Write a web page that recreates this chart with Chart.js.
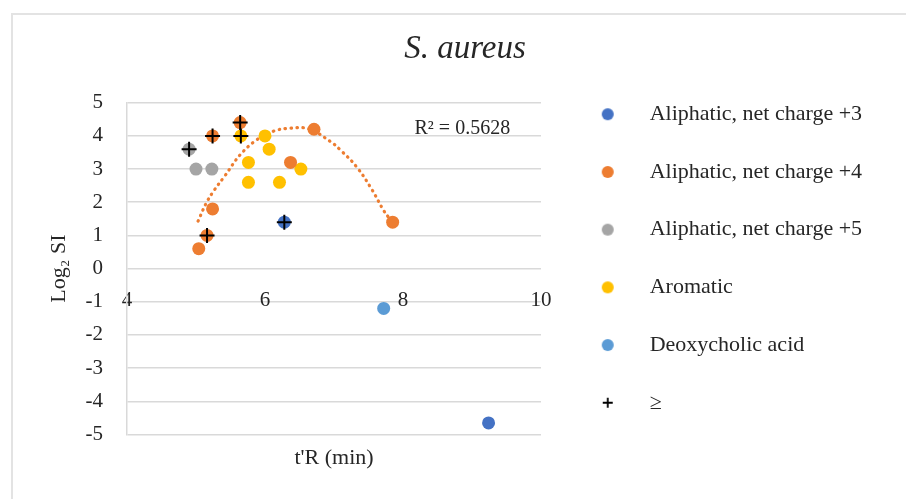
<!DOCTYPE html>
<html>
<head>
<meta charset="utf-8">
<script src="https://cdn.jsdelivr.net/npm/chart.js@4"></script>
<style>
  body { margin: 0; background: #fff; }
  #wrap { position: relative; width: 906px; height: 499px; overflow: hidden; }
  #frame { position: absolute; left: 11px; top: 13px; width: 1000px; height: 600px; border: 2px solid #e3e3e3; }
  #myChart { position: absolute; left: 0; top: 0; }
</style>
</head>
<body>
<div id="wrap"><div id="frame"></div><canvas id="myChart" width="906" height="499"></canvas></div>
<script>
var seriesNames = ["Aliphatic, net charge +3", "Aliphatic, net charge +4", "Aliphatic, net charge +5", "Aromatic", "Deoxycholic acid", "≥"]
var seriesColors = ["#4472C4", "#ED7D31", "#A5A5A5", "#FFC000", "#5B9BD5", "#000000"]

var aliph3X = [6.28, 9.24]
var aliph3Y = [1.4, -4.65]
var aliph4X = [5.04, 5.16, 5.24, 5.24, 5.64, 6.37, 6.71, 7.85]
var aliph4Y = [0.6, 1.0, 1.8, 4.0, 4.4, 3.2, 4.2, 1.4]
var aliph5X = [4.9, 5.0, 5.23]
var aliph5Y = [3.6, 3.0, 3.0]
var aromX = [5.65, 5.76, 5.76, 6.0, 6.06, 6.21, 6.52]
var aromY = [4.0, 3.2, 2.6, 4.0, 3.6, 2.6, 3.0]
var deoxyX = [7.72]
var deoxyY = [-1.2]
// points marked "≥" (drawn as black crosses on top)
var geX = [4.9, 5.16, 5.24, 5.64, 5.65, 6.28]
var geY = [3.6, 1.0, 4.0, 4.4, 4.0, 1.4]

// polynomial trendline of the +4 series
var trendX = [5.03, 5.15, 5.27, 5.42, 5.64, 5.88, 6.12, 6.36, 6.63, 6.94, 7.09, 7.33, 7.55, 7.72, 7.8]
var trendY = [1.43, 1.98, 2.38, 2.8, 3.43, 3.88, 4.14, 4.23, 4.21, 3.84, 3.58, 3.06, 2.38, 1.75, 1.52]
var r2Text = "R² = 0.5628"

var xTicks = [4, 6, 8, 10]
var yTicks = [-5, -4, -3, -2, -1, 0, 1, 2, 3, 4, 5]

var serif = "'Liberation Serif', 'DejaVu Serif', serif"
var textColor = "#262626"
var gridColor = "#d9d9d9"

function pts(xs, ys) {
    return xs.map((x, i) => ({ x: x, y: ys[i] }))
}

function dot(color) {
    var c = document.createElement("canvas")
    c.width = 14; c.height = 14
    var g = c.getContext("2d")
    g.fillStyle = color
    g.beginPath(); g.arc(7, 7, 6, 0, Math.PI * 2); g.fill()
    return c
}

function plus() {
    var c = document.createElement("canvas")
    c.width = 12; c.height = 12
    var g = c.getContext("2d")
    g.strokeStyle = "#000"; g.lineWidth = 1.8
    g.beginPath(); g.moveTo(1, 6); g.lineTo(11, 6); g.moveTo(6, 1); g.lineTo(6, 11); g.stroke()
    return c
}

var legendMarks = [dot(seriesColors[0]), dot(seriesColors[1]), dot(seriesColors[2]), dot(seriesColors[3]), dot(seriesColors[4]), plus()]

function series(i, xs, ys) {
    return {
        label: seriesNames[i],
        data: pts(xs, ys),
        backgroundColor: seriesColors[i],
        borderColor: seriesColors[i],
        pointRadius: 6.5,
        borderWidth: 0,
        order: 1
    }
}

// make the right-hand legend as wide as in the picture
var legendWidthFix = {
    id: "legendWidthFix",
    beforeLayout(chart) {
        var lg = chart.legend
        if (lg && !lg._fixed) {
            var fit = lg.fit
            lg.fit = function () { fit.call(this); this.width = 359 }
            lg._fixed = true
        }
    }
}

var r2Label = {
    id: "r2Label",
    afterDatasetsDraw(chart) {
        var ctx = chart.ctx
        ctx.save()
        ctx.font = "20px " + serif
        ctx.fillStyle = textColor
        ctx.textAlign = "center"
        ctx.textBaseline = "middle"
        ctx.fillText(r2Text, chart.scales.x.getPixelForValue(8.86), chart.scales.y.getPixelForValue(4.22))
        ctx.restore()
    }
}

var chartField = document.querySelector("#myChart").getContext("2d")

var myChart = new Chart(chartField, {
    type: "scatter",
    data: {
        datasets: [
            series(0, aliph3X, aliph3Y),
            series(1, aliph4X, aliph4Y),
            series(2, aliph5X, aliph5Y),
            series(3, aromX, aromY),
            series(4, deoxyX, deoxyY),
            {
                label: seriesNames[5],
                data: pts(geX, geY),
                pointStyle: "cross",
                pointRadius: 7.5,
                borderWidth: 2,
                borderColor: "#000",
                backgroundColor: "#000",
                order: 0
            },
            {
                label: "trend",
                data: pts(trendX, trendY),
                showLine: true,
                pointRadius: 0,
                borderColor: seriesColors[1],
                borderWidth: 3.2,
                borderDash: [0.5, 5.5],
                borderCapStyle: "round",
                tension: 0.4,
                order: 2
            }
        ]
    },
    options: {
        responsive: false,
        animation: false,
        layout: { padding: { left: 30, right: 6, top: 30, bottom: 12 } },
        plugins: {
            tooltip: { enabled: false },
            title: {
                display: true,
                text: "S. aureus",
                color: textColor,
                font: { family: serif, size: 33, style: "italic", weight: "normal" },
                padding: { top: 0, bottom: 33.1 }
            },
            legend: {
                position: "right",
                align: "center",
                labels: {
                    usePointStyle: true,
                    pointStyleWidth: 62,
                    boxHeight: 12,
                    padding: 35.7,
                    color: textColor,
                    font: { family: serif, size: 22 },
                    generateLabels: (chart) => Chart.defaults.plugins.legend.labels.generateLabels(chart).map((it) => {
                        it.pointStyle = legendMarks[it.datasetIndex]
                        return it
                    }),
                    filter: (it) => it.datasetIndex < 6,
                    sort: (a, b) => a.datasetIndex - b.datasetIndex
                }
            }
        },
        scales: {
            x: {
                type: "linear",
                position: "bottom",
                min: 4,
                max: 10,
                ticks: { display: false },
                grid: { display: false, drawTicks: false },
                border: { display: false },
                title: {
                    display: true,
                    text: "t'R (min)",
                    color: textColor,
                    font: { family: serif, size: 22 },
                    padding: { top: 12, bottom: 16 }
                },
                afterFit: (s) => { s.height = 52.5 }
            },
            x2: {
                type: "linear",
                axis: "x",
                position: { y: 0 },
                min: 4,
                max: 10,
                afterBuildTicks: (s) => { s.ticks = xTicks.map((v) => ({ value: v })) },
                ticks: { padding: 19, color: textColor, font: { family: serif, size: 21 } },
                grid: { display: false, drawTicks: false },
                border: { display: false }
            },
            y: {
                type: "linear",
                min: -5,
                max: 5,
                afterBuildTicks: (s) => { s.ticks = yTicks.map((v) => ({ value: v })) },
                ticks: { padding: 24, color: textColor, font: { family: serif, size: 21 } },
                grid: { color: gridColor, lineWidth: 1.5, drawTicks: false },
                border: { display: true, color: gridColor, width: 1.5 },
                title: {
                    display: true,
                    text: "Log₂ SI",
                    color: textColor,
                    font: { family: serif, size: 22 },
                    padding: { top: 16, bottom: 4 }
                },
                afterFit: (s) => { s.width = 97 }
            }
        }
    },
    plugins: [legendWidthFix, r2Label]
})
</script>
</body>
</html>
